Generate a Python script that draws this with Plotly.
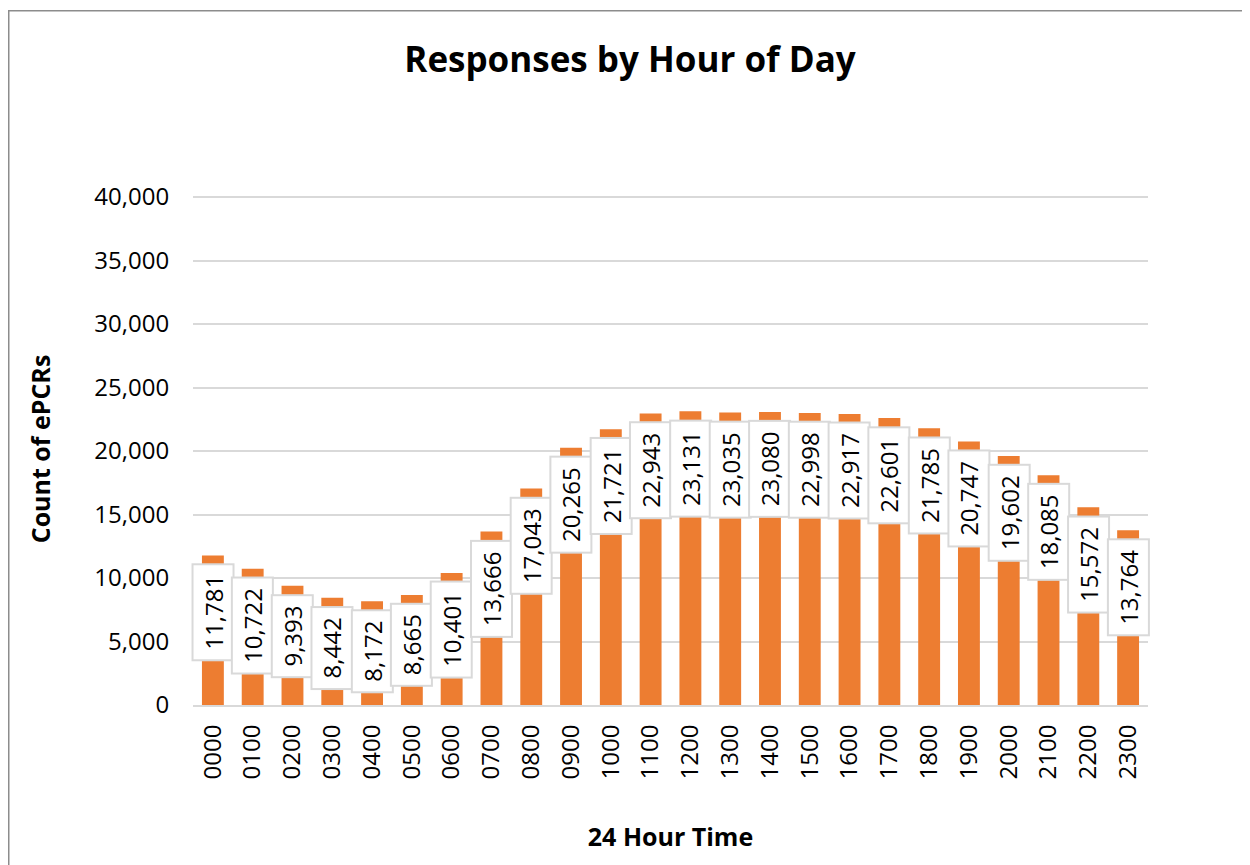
import plotly.graph_objects as go

hours = ["0000","0100","0200","0300","0400","0500","0600","0700","0800","0900","1000","1100",
         "1200","1300","1400","1500","1600","1700","1800","1900","2000","2100","2200","2300"]
counts = [11781,10722,9393,8442,8172,8665,10401,13666,17043,20265,21721,22943,
          23131,23035,23080,22998,22917,22601,21785,20747,19602,18085,15572,13764]

FONT = "Open Sans"
OFF = 8  # default page body margin
W, H = 1250 - OFF, 865 - OFF
L, R, T, B = 193 - OFF, 1148 - OFF, 193 - OFF, 705 - OFF
idx = list(range(len(hours)))

fig = go.Figure(go.Bar(x=idx, y=counts, marker_color="#ED7D31", width=0.55,
                       marker_line_width=0))

for i, c in zip(idx, counts):
    txt = f"{c:,}"
    fig.add_annotation(x=i, y=c, text=txt, textangle=-90, showarrow=False,
                       yanchor="top", yshift=-8, bgcolor="white", bordercolor="#D9D9D9",
                       borderwidth=2, borderpad=3, width=88 - 13.7 * (6 - len(txt)), height=33,
                       font=dict(family=FONT, size=24, color="#000"))

px = lambda v: (v - L) / (R - L)
py = lambda v: (B - v) / (B - T)
fig.add_shape(type="rect", xref="paper", yref="paper", x0=px(0.75), x1=px(W + 5), y0=py(H + 5), y1=py(2.75),
              line=dict(color="#8C8C8C", width=1.5), layer="below")

fig.update_layout(
    width=W, height=H, plot_bgcolor="white", paper_bgcolor="white",
    margin=dict(l=L, r=W - R, t=T, b=H - B, autoexpand=False),
    title=dict(text="<b>Responses by Hour of Day</b>", x=(630 - OFF) / W, xref="container", xanchor="center",
               y=1 - (60 - OFF) / H, yref="container", yanchor="middle",
               font=dict(family=FONT, size=35, color="#000")),
    showlegend=False,
)
fig.update_xaxes(range=[-0.5, 23.5], tickmode="array", tickvals=idx, ticktext=hours, tickangle=-90,
                 tickfont=dict(family=FONT, size=24, color="#000"), automargin=False,
                 showline=True, linecolor="#D9D9D9", linewidth=2, ticks="outside", ticklen=8,
                 tickcolor="white", showgrid=False, zeroline=False,
                 title=dict(text="<b>24 Hour Time</b>", font=dict(family=FONT, size=25, color="#000"),
                            standoff=50))
fig.update_yaxes(range=[0, 40315], tickvals=[0,5000,10000,15000,20000,25000,30000,35000,40000],
                 tickformat=",", showgrid=True, gridcolor="#D9D9D9",
                 gridwidth=1.5, zeroline=False, tickfont=dict(family=FONT, size=24, color="#000"),
                 ticks="outside", tickcolor="white", ticklen=18, automargin=False,
                 title=dict(text="<b>Count of ePCRs</b>", font=dict(family=FONT, size=25, color="#000"),
                            standoff=36))

fig.write_html("out.html")
